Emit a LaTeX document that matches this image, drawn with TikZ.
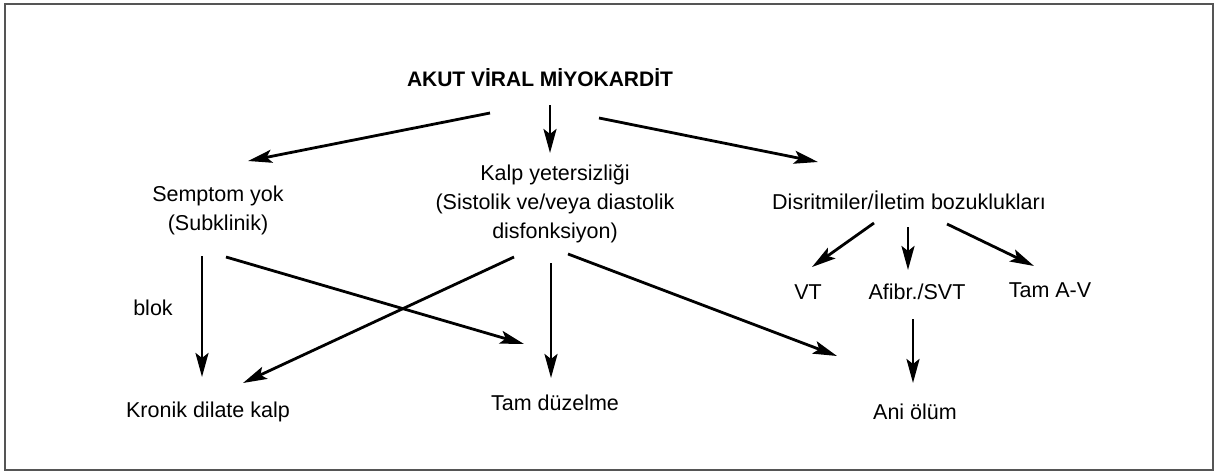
\documentclass[tikz,border=0pt]{standalone}
\usepackage{fontspec}
\setmainfont{Liberation Sans}
\usetikzlibrary{arrows.meta}
\definecolor{rim}{HTML}{555555}
\tikzset{lbl/.style={align=center,font=\fontsize{21.5}{29}\selectfont,inner sep=0pt},
         ttl/.style={lbl,font=\fontsize{21}{29}\selectfont\bfseries},
         arr/.style={-{Stealth[length=24pt,width=13pt,inset=5pt]},line width=2.8pt}}

\begin{document}
\begin{tikzpicture}[x=1pt,y=-1pt]
 \useasboundingbox (0,0) rectangle (1215,471);
 \draw[rim,line width=2pt] (5,4) rectangle (1213,470);
 \node[ttl] (akut) at (540,78) {AKUT V\.IRAL M\.IYOKARD\.IT};
 \node[lbl] (semp) at (218,210) {Semptom yok\\(Subklinik)};
 \node[lbl] (kalp) at (555,204) {Kalp yetersizliği\\(Sistolik ve/veya diastolik\\disfonksiyon)};
 \node[lbl] (disr) at (909,200) {Disritmiler/İletim bozuklukları};
 \node[lbl] (vt) at (808,292) {VT};
 \node[lbl] (afib) at (917,292) {Afibr./SVT};
 \node[lbl] (tamav) at (1050,290) {Tam A-V};
 \node[lbl] (blok) at (153,308) {blok};
 \node[lbl] (kron) at (208,412) {Kronik dilate kalp};
 \node[lbl] (duz) at (555,403) {Tam düzelme};
 \node[lbl] (ani) at (915,412) {Ani ölüm};
 \draw[arr] ([shift={(10,27)}]akut.center) -- ([shift={(-5,-51)}]kalp.center);
 \draw[arr] ([shift={(-50,35)}]akut.center) -- ([shift={(30,-49)}]semp.center);
 \draw[arr] ([shift={(59,40)}]akut.center) -- ([shift={(-91,-38)}]disr.center);
 \draw[arr] ([shift={(-35,23)}]disr.center) -- ([shift={(4,-25)}]vt.center);
 \draw[arr] ([shift={(-1,27)}]disr.center) -- ([shift={(-9,-22)}]afib.center);
 \draw[arr] ([shift={(38,24)}]disr.center) -- ([shift={(-16,-24)}]tamav.center);
 \draw[arr] ([shift={(-4,27)}]afib.center) -- ([shift={(-2,-29)}]ani.center);
 \draw[arr] ([shift={(-16,46)}]semp.center) -- ([shift={(-6,-35)}]kron.center);
 \draw[arr] ([shift={(8,47)}]semp.center) -- ([shift={(-31,-59)}]duz.center);
 \draw[arr] ([shift={(-41,53)}]kalp.center) -- ([shift={(35,-29)}]kron.center);
 \draw[arr] ([shift={(-4,59)}]kalp.center) -- ([shift={(-4,-25)}]duz.center);
 \draw[arr] ([shift={(13,50)}]kalp.center) -- ([shift={(-78,-56)}]ani.center);
\end{tikzpicture}
\end{document}
